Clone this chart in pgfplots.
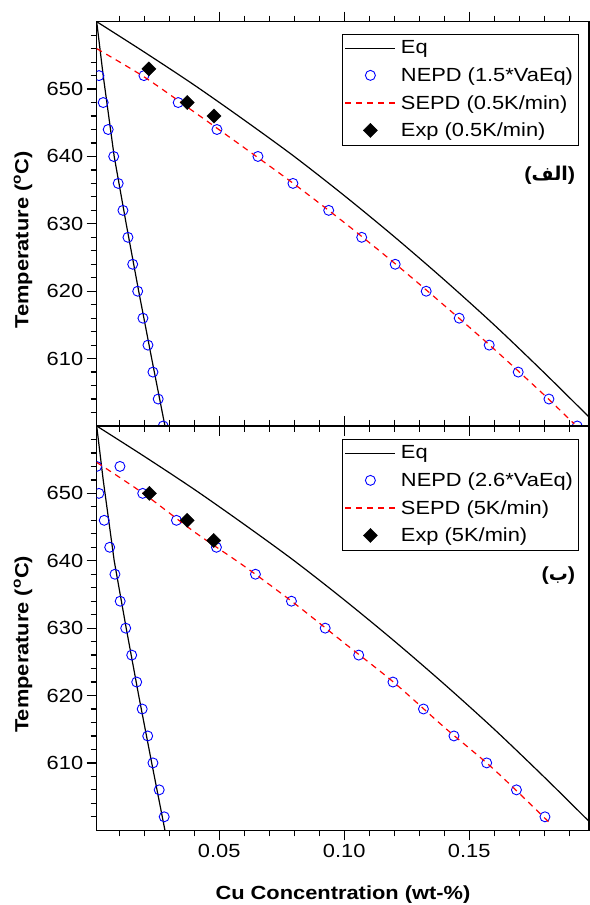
\documentclass[border=0pt]{standalone}
\usepackage{pgfplots}
\pgfplotsset{compat=1.18}
\usepackage{fontspec}
\setmainfont{Liberation Sans}[FakeStretch=1.15]
\newfontfamily\arabicfont[Script=Arabic]{DejaVu Sans}
\TeXXeTstate=1
\newcommand\fs{\fontsize{19bp}{23bp}\selectfont}

\tikzset{
 eq/.style={draw=black, color=black, line width=1.2bp, mark=none},
 nepd/.style={only marks, mark=o, mark size=5bp, color=blue, draw=blue, mark options={line width=0.9bp, draw=blue, solid}},
 sepd/.style={draw=red, color=red, dash pattern=on 6bp off 5bp, line width=1.2bp, mark=none},
 expd/.style={only marks, mark=square*, mark size=5bp, color=black, draw=black, fill=black, mark options={rotate=45}},
}

\pgfplotsset{
 panel/.style={
  scale only axis, width=492.5bp, height=404.3bp,
  xmin=0.001, xmax=0.198, ymin=600, ymax=660,
  xtick={0.05,0.10,0.15},
  minor xtick={0.01,0.02,0.03,0.04,0.06,0.07,0.08,0.09,0.11,0.12,0.13,0.14,0.16,0.17,0.18,0.19},
  ytick={610,620,630,640,650},
  minor ytick={602,604,606,608,612,614,616,618,622,624,626,628,632,634,636,638,642,644,646,648,652,654,656,658},
  scaled x ticks=false,
  tick align=outside,
  major tick length=10bp, minor tick length=6bp,
  ytick pos=left,
  axis line style={line width=1.5bp},
  every tick/.style={black, line width=1.2bp},
  xticklabel style={font=\fs},
  yticklabel style={font=\fs},
  /pgf/number format/assume math mode=true,
  yticklabel={\pgfmathprintnumber[assume math mode=true]{\tick}},
  xticklabel={\pgfmathprintnumber[assume math mode=true,fixed,fixed zerofill,precision=2]{\tick}},
  clip marker paths=true,
  legend cell align=left,
  legend image code/.code={\draw[mark repeat=2,mark phase=2,##1] plot coordinates {(0bp,0bp) (25bp,0bp) (50bp,0bp)};},
  legend style={at={(1,1)}, anchor=north east, xshift=-11bp, yshift=-12bp, font=\fs, row sep=8.3bp, inner ysep=5bp,
    /tikz/every odd column/.append style={column sep=3bp}},
  every axis y label/.style={at={(axis description cs:-0.1494,0.46)}, rotate=90, anchor=center, font=\fs},
  ylabel={\bfseries Temperature (\textsuperscript{o}C)},
 },
}

\begin{document}
\begin{tikzpicture}
\useasboundingbox (0bp,0bp) rectangle (590bp,905bp);
% ---------- top panel
\begin{axis}[panel, at={(96.7bp,883.3bp)}, anchor=north west, xticklabel=\empty]
\addlegendimage{draw=black, line width=1.2bp, mark=none}
\addlegendentry{Eq}
\addlegendimage{only marks, mark=o, mark size=5bp, draw=blue, mark options={line width=0.9bp, draw=blue}}
\addlegendentry{NEPD (1.5*VaEq)}
\addlegendimage{draw=red, dash pattern=on 6bp off 5bp, line width=1.2bp, mark=none}
\addlegendentry{SEPD (0.5K/min)}
\addlegendimage{only marks, mark=square*, mark size=5bp, draw=black, fill=black, mark options={rotate=45}}
\addlegendentry{Exp (0.5K/min)}
\addplot[eq, forget plot] coordinates {(0.001,660) (0.0036,652) (0.0080,640) (0.0128,630) (0.0178,620) (0.0230,610) (0.0283,600)};
\addplot[eq, smooth, forget plot] coordinates {(0.001,660) (0.02,655.5) (0.04,650.6) (0.06,645.4) (0.08,640.0) (0.10,634.2) (0.12,628.1) (0.14,621.7) (0.16,615.0) (0.18,607.9) (0.198,601.3)};
\addplot[nepd, forget plot] coordinates {(0.0019,652) (0.0036,648) (0.0056,644) (0.0078,640) (0.0096,636) (0.0115,632) (0.0135,628) (0.0154,624) (0.0174,620) (0.0195,616) (0.0215,612) (0.0235,608) (0.0256,604) (0.0276,600)};
\addplot[nepd, forget plot] coordinates {(0.0199,652) (0.0336,648) (0.0491,644) (0.0655,640) (0.0795,636) (0.0938,632) (0.1070,628) (0.1204,624) (0.1328,620) (0.1460,616) (0.1580,612) (0.1696,608) (0.1819,604) (0.1932,600)};
\addplot[sepd, smooth, forget plot] coordinates {(0.001,656.0) (0.02,651.8) (0.04,646.6) (0.06,641.3) (0.08,635.9) (0.10,630.2) (0.12,624.2) (0.14,617.9) (0.16,611.4) (0.18,604.6) (0.192,600.3)};
\addplot[expd, forget plot] coordinates {(0.0219,653) (0.0372,648) (0.0479,646)};
\node[anchor=east, inner sep=0pt, font=\fs\bfseries] at (axis cs:0.1925,637.2) {({\arabicfont\bfseries الف})};
\end{axis}
% ---------- bottom panel
\begin{axis}[panel, at={(96.7bp,479bp)}, anchor=north west,
  legend style={yshift=-0.7bp},
  xlabel={\bfseries Cu Concentration (wt-\%)},
  every axis x label/.style={at={(axis description cs:0.5,-0.159)}, anchor=center, font=\fs}]
\addlegendimage{draw=black, line width=1.2bp, mark=none}
\addlegendentry{Eq}
\addlegendimage{only marks, mark=o, mark size=5bp, draw=blue, mark options={line width=0.9bp, draw=blue}}
\addlegendentry{NEPD (2.6*VaEq)}
\addlegendimage{draw=red, dash pattern=on 6bp off 5bp, line width=1.2bp, mark=none}
\addlegendentry{SEPD (5K/min)}
\addlegendimage{only marks, mark=square*, mark size=5bp, draw=black, fill=black, mark options={rotate=45}}
\addlegendentry{Exp (5K/min)}
\addplot[eq, forget plot] coordinates {(0.001,660) (0.0036,652) (0.0080,640) (0.0128,630) (0.0178,620) (0.0230,610) (0.0283,600)};
\addplot[eq, smooth, forget plot] coordinates {(0.001,660) (0.02,655.5) (0.04,650.6) (0.06,645.4) (0.08,640.0) (0.10,634.2) (0.12,628.1) (0.14,621.7) (0.16,615.0) (0.18,607.9) (0.198,601.3)};
\addplot[nepd, forget plot] coordinates {(0.001,654) (0.0194,650) (0.0329,646) (0.0489,642) (0.0645,638) (0.0789,634) (0.0924,630) (0.1058,626) (0.1195,622) (0.1317,618) (0.1439,614) (0.1570,610) (0.1689,606) (0.1803,602)};
\addplot[nepd, forget plot] coordinates {(0.0103,654) (0.0019,650) (0.0040,646) (0.0062,642) (0.0083,638) (0.0104,634) (0.0126,630) (0.0150,626) (0.0170,622) (0.0192,618) (0.0214,614) (0.0235,610) (0.0260,606) (0.0280,602)};
\addplot[sepd, smooth, forget plot] coordinates {(0.001,654.6) (0.02,649.9) (0.04,644.3) (0.06,639.2) (0.08,633.7) (0.10,627.8) (0.12,621.9) (0.14,615.3) (0.16,609.0) (0.183,600.8)};
\addplot[expd, forget plot] coordinates {(0.0221,650) (0.0372,646) (0.0478,643)};
\node[anchor=east, inner sep=0pt, font=\fs\bfseries] at (axis cs:0.1925,637.8) {({\arabicfont\bfseries ب})};
\end{axis}
\end{tikzpicture}
\end{document}
